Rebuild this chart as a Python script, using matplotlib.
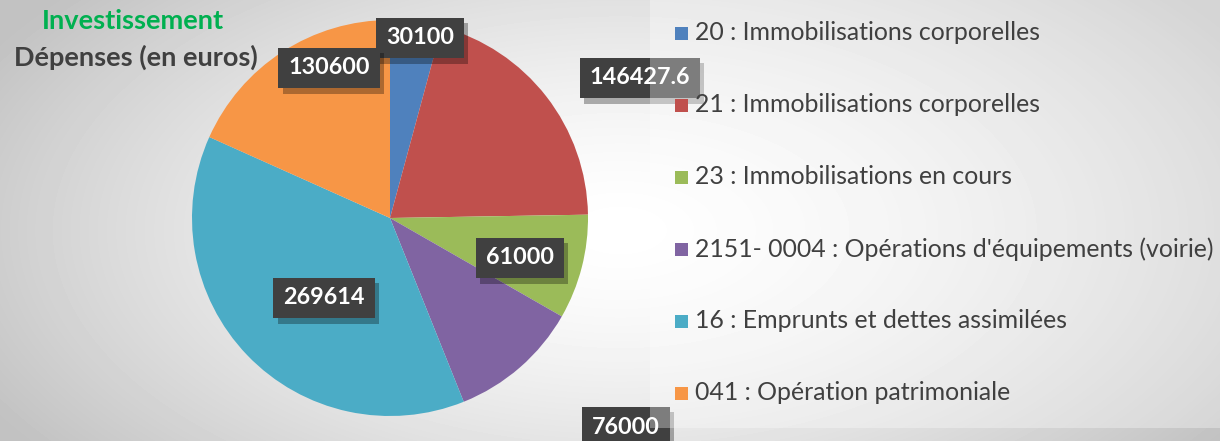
import matplotlib
matplotlib.use("Agg")
import matplotlib.pyplot as plt
import matplotlib.patheffects as pe
import numpy as np
from matplotlib.patches import Rectangle

categories = ["20 : Immobilisations corporelles",
              "21 : Immobilisations corporelles",
              "23 : Immobilisations en cours",
              "2151- 0004 : Opérations d'équipements (voirie)",
              "16 : Emprunts et dettes assimilées",
              "041 : Opération patrimoniale"]
values = [30100, 146427.6, 61000, 76000, 269614, 130600]
value_labels = ["30100", "146427.6", "61000", "76000", "269614", "130600"]
title_1 = "Investissement"
title_2 = "Dépenses (en euros)"

# layout / style
colors = ["#4f81bd", "#c0504d", "#9bbb59", "#8064a2", "#4bacc6", "#f79646"]
label_px = [(420, 38), (640, 78), (520, 258), (626, 427), (324, 298), (329, 68)]
FONT = "Lato"
W, H = 1220, 441
CX, CY, R = 390, 218, 198

fig = plt.figure(figsize=(W / 100, H / 100), dpi=100)

# background gradient
bg = fig.add_axes([0, 0, 1, 1], zorder=0)
yy, xx = np.mgrid[0:H, 0:W]
d = np.sqrt(((xx - 620) / 700.0) ** 2 + ((yy - 230) / 360.0) ** 2)
g = np.clip(1 - 0.23 * d ** 1.5, 0.76, 1)
bg.imshow(g, cmap="gray", vmin=0, vmax=1, extent=[0, W, H, 0], aspect="auto", interpolation="bilinear")
bg.set_xlim(0, W); bg.set_ylim(H, 0); bg.axis("off")

# pie
ax = fig.add_axes([(CX - R) / W, (H - CY - R) / H, 2 * R / W, 2 * R / H], zorder=1)
ax.set_facecolor("none")
ax.pie(values, colors=colors, startangle=90, counterclock=False, radius=1,
       wedgeprops=dict(linewidth=0))
ax.set_xlim(-1, 1); ax.set_ylim(-1, 1)
ax.axis("off")

def px2data(px, py):
    return (px - CX) / R, (CY - py) / R

for i in range(len(values)):
    x, y = px2data(*label_px[i])
    t = ax.text(x, y, value_labels[i], ha="center", va="center", fontsize=16.8,
                fontweight="bold", family=FONT, color="white", clip_on=False, zorder=5 + i,
                bbox=dict(boxstyle="square,pad=0.42", fc="#404040", ec="none"))
    t.get_bbox_patch().set_path_effects([
        pe.SimplePatchShadow(offset=(3, -4), shadow_rgbFace="black", alpha=0.3),
        pe.Normal()])

# legend panel (semi-transparent, drawn over labels)
fig.patches.append(Rectangle((650 / W, (H - 428) / H), (W - 650) / W, 428 / H,
                             transform=fig.transFigure, fc="white", alpha=0.32,
                             ec="none", zorder=2))

for i, (lab, col) in enumerate(zip(categories, colors)):
    yc = 33 + 72 * i
    fig.patches.append(Rectangle((675 / W, (H - yc - 6.5) / H), 13 / W, 13 / H,
                                 transform=fig.transFigure, fc=col, ec="none", zorder=3))
    fig.text(695 / W, (H - yc) / H, lab, ha="left", va="center", fontsize=17.9,
             family=FONT, color="#404040", zorder=3)

fig.text(133 / W, (H - 21) / H, title_1, ha="center", va="center", fontsize=19.5,
         fontweight="bold", family=FONT, color="#00b050", zorder=3)
fig.text(136 / W, (H - 57) / H, title_2, ha="center", va="center", fontsize=19.5,
         fontweight="bold", family=FONT, color="#404040", zorder=3)

fig.savefig("out.png", dpi=100)
